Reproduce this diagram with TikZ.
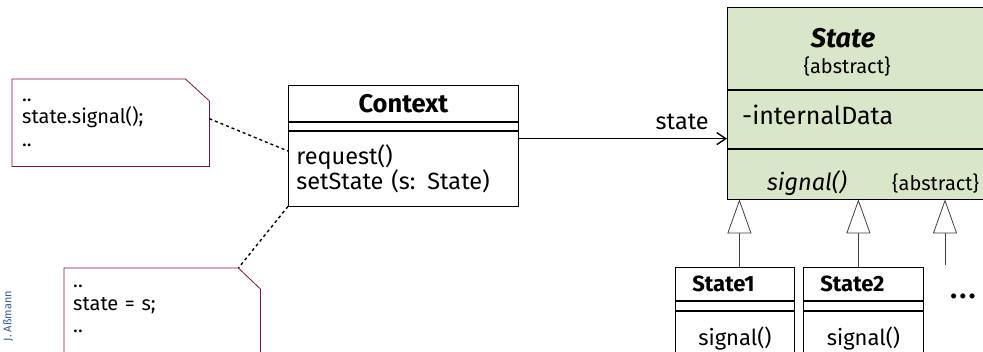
\documentclass[tikz,border=0pt]{standalone}
\usepackage{fontspec}
\setmainfont{Fira Sans}
\usetikzlibrary{positioning,calc,arrows.meta}

\definecolor{notered}{RGB}{128,20,70}
\definecolor{stategreen}{RGB}{217,231,200}
\definecolor{authorblue}{RGB}{50,90,150}

\newcommand\umlfont{\fontsize{23.5}{25}\selectfont}
\newcommand\titlefont{\fontsize{25.5}{28}\selectfont\bfseries}
\newcommand\notefont{\fontsize{20}{22.5}\selectfont}
\newcommand\tagfont{\fontsize{20}{22}\selectfont}
\newcommand\subfont{\fontsize{22}{24}\selectfont}

\tikzset{
  compart/.style={draw, thick, inner sep=0pt, anchor=north west},
  txt/.style={inner sep=0pt},
  notebox/.style={draw=notered, thick},
  anchorline/.style={line width=1.4pt, dash pattern=on 3pt off 3pt},
  assoc/.style={thick, -{Straight Barb[length=9pt,width=12pt,line width=1.4pt]}},
  inherit/.style={gray!50!black, thick, -{Triangle[open,length=34pt,width=24pt,fill=white]}},
}

\begin{document}
\begin{tikzpicture}[x=1pt, y=-1pt, font=\umlfont]
\useasboundingbox (0,0) rectangle (983,351);

% notes
\node[txt, anchor=north west, minimum width=197pt, minimum height=87pt, text width=177pt, align=left, font=\notefont] (note1) at (12,79) {..\\state.signal();\\..};
\draw[notebox] (note1.south west) -- (note1.north west) -- ([xshift=-24pt]note1.north east) -- ([yshift=-22pt]note1.north east) -- (note1.south east) -- cycle;
\node[txt, anchor=north west, minimum width=196pt, minimum height=82pt, text width=178pt, align=left, font=\notefont] (note2) at (64,268) {..\\state = s;\\..};
\draw[notebox] ([yshift=-40pt]note2.south west) -- (note2.north west) -- ([xshift=-22pt]note2.north east) -- ([yshift=-21pt]note2.north east) -- ([yshift=-40pt]note2.south east);
\coordinate (note2cut) at ([xshift=-22pt]note2.north east);

% Context class
\node[compart, minimum width=230pt, minimum height=36pt, font=\titlefont] (ctxname) at (288,85) {Context};
\node[compart, minimum width=230pt, minimum height=8pt, below=0pt of ctxname] (ctxattr) {};
\node[compart, minimum width=230pt, minimum height=75pt, text width=214pt, align=left, below=0pt of ctxattr] (ctxops) {request()\\setState (s: State)};

% State class
\node[compart, fill=stategreen, minimum width=262pt, minimum height=82pt] (statename) at (727,7) {};
\node[compart, fill=stategreen, minimum width=262pt, minimum height=58pt, below=0pt of statename] (stateattr) {};
\node[compart, fill=stategreen, minimum width=262pt, minimum height=50pt, below=0pt of stateattr] (stateops) {};
\node[txt, font=\fontsize{27}{30}\selectfont\bfseries\itshape] (statetitle) at (843,38) {State};
\node[txt, font=\tagfont] (statetag) at (847,66) {\{abstract\}};
\node[txt, anchor=west, font=\fontsize{25}{28}\selectfont] (statedata) at (742,115) {-internalData};
\node[txt, font=\umlfont\itshape] (statesig) at (807,183) {signal()};
\node[txt, anchor=west, font=\tagfont] (sigtag) at (892,183) {\{abstract\}};

% subclasses
\node[compart, minimum width=119pt, minimum height=33pt, text width=85pt, align=left, font=\subfont\bfseries] (s1name) at (675,267) {State1};
\node[compart, minimum width=119pt, minimum height=9pt, below=0pt of s1name] (s1attr) {};
\node[compart, minimum width=119pt, minimum height=56pt, font=\subfont, below=0pt of s1attr] (s1ops) {signal()};
\node[compart, minimum width=120pt, minimum height=33pt, text width=86pt, align=left, font=\subfont\bfseries] (s2name) at (803,267) {State2};
\node[compart, minimum width=120pt, minimum height=9pt, below=0pt of s2name] (s2attr) {};
\node[compart, minimum width=120pt, minimum height=56pt, font=\subfont, below=0pt of s2attr] (s2ops) {signal()};
\node[txt, font=\fontsize{28}{30}\selectfont\bfseries] (more) at (963,296) {.\kern2.5pt.\kern2.5pt.};

% connectors
\draw[anchorline] ([yshift=4pt]note1.east) -- ($(ctxops.north west)!0.27!(ctxops.south west)$);
\draw[anchorline] (ctxops.south west) -- (note2cut);
\coordinate (assocstart) at ([yshift=-8pt]ctxops.north east);
\draw[assoc] (assocstart) -- (assocstart -| stateattr.west) node[above=5pt, pos=0.785] (assoclabel) {state};
\coordinate (s1top) at ([xshift=4.5pt]s1name.north);
\coordinate (s2top) at ([xshift=-5pt]s2name.north);
\coordinate (moretop) at (945,265);
\draw[inherit] (s1top) -- (s1top |- stateops.south);
\draw[inherit] (s2top) -- (s2top |- stateops.south);
\draw[inherit] (moretop) -- (moretop |- stateops.south);

% author
\node[rotate=90, font=\fontsize{11}{12}\selectfont, text=authorblue] (author) at (8,316) {J. Aßmann};
\end{tikzpicture}
\end{document}
